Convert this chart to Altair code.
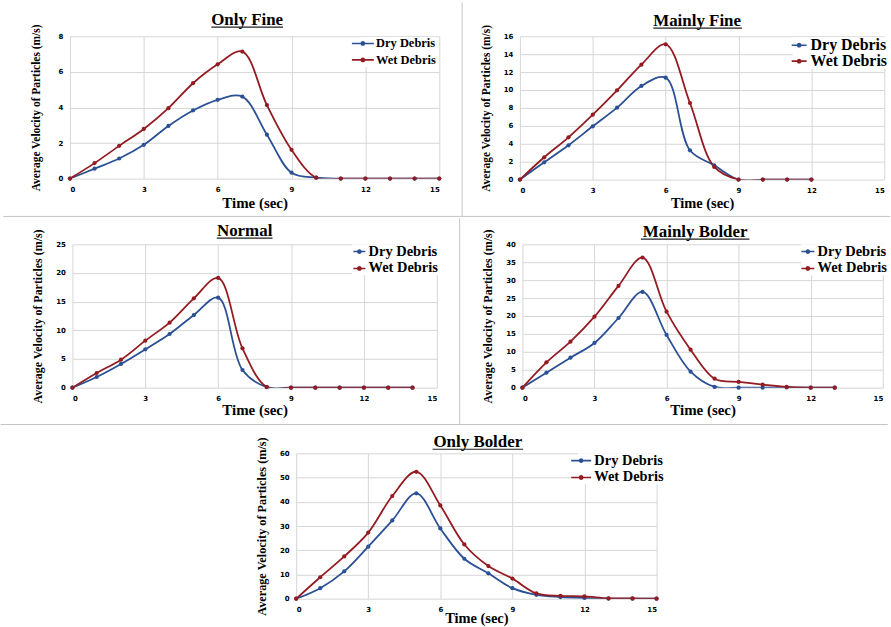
import altair as alt
import pandas as pd

# ---------------- data ----------------
only_fine_t = list(range(16))
only_fine_dry = [0, 0.56, 1.13, 1.9, 2.96, 3.83, 4.43, 4.61, 2.47, 0.33, 0.05, 0, 0, 0, 0, 0]
only_fine_wet = [0, 0.87, 1.84, 2.79, 3.96, 5.36, 6.42, 7.14, 4.13, 1.62, 0.05, 0, 0, 0, 0, 0]

mainly_fine_t = list(range(13))
mainly_fine_dry = [0, 1.93, 3.83, 5.95, 8.03, 10.45, 11.38, 3.27, 1.6, 0, 0, 0, 0]
mainly_fine_wet = [0, 2.49, 4.72, 7.25, 9.96, 12.83, 15.1, 8.55, 1.41, 0, 0, 0, 0]

normal_t = list(range(15))
normal_dry = [0, 1.86, 4.13, 6.69, 9.36, 12.67, 15.7, 3.08, 0.1, 0, 0, 0, 0, 0, 0]
normal_wet = [0, 2.56, 4.88, 8.2, 11.34, 15.58, 19.13, 6.86, 0.1, 0, 0, 0, 0, 0, 0]

mainly_bolder_t = list(range(14))
mainly_bolder_dry = [0, 4.19, 8.37, 12.47, 19.44, 26.7, 14.7, 4.47, 0.2, 0, 0, 0.05, 0, 0]
mainly_bolder_wet = [0, 7.07, 12.84, 19.8, 28.4, 36.3, 21.2, 10.6, 2.5, 1.6, 0.84, 0.2, 0, 0]

only_bolder_t = list(range(16))
only_bolder_dry = [0, 4.36, 11.3, 21.5, 32.3, 43.5, 29.0, 16.5, 10.5, 4.36, 1.6, 0.7, 0.3, 0, 0, 0]
only_bolder_wet = [0, 8.86, 17.45, 27.3, 42.4, 52.4, 38.5, 22.4, 13.5, 8.3, 2.2, 1.2, 0.95, 0.15, 0.1, 0]

series_names = ["Dry Debris", "Wet Debris"]
series_colors = ["#2B5094", "#931C22"]
x_ticks = [0, 3, 6, 9, 12, 15]
y_title = "Average Velocity of Particles (m/s)"
x_title = "Time (sec)"

SERIF = "Liberation Serif"
SANS = "DejaVu Sans"
SEP = "#c4c4c4"
ONE = pd.DataFrame({"a": [0]})


def sym_path(w, s=6.0):
    k = w / (2 * s)
    left = -(2 * k - 1)
    c = -(k - 1)
    t = 0.8 / s
    r = 2.4 / s
    return (f"M{left:.3f},{-t:.3f}H1V{t:.3f}H{left:.3f}Z"
            f"M{c + r:.3f},0A{r:.3f},{r:.3f} 0 1,1 {c - r:.3f},0"
            f"A{r:.3f},{r:.3f} 0 1,1 {c + r:.3f},0Z")


def rule(x, x2, y, y2, color=SEP, width=1, opacity=1):
    enc = {"x": alt.value(x), "y": alt.value(y)}
    if x2 is not None:
        enc["x2"] = alt.value(x2)
    if y2 is not None:
        enc["y2"] = alt.value(y2)
    return alt.Chart(ONE).mark_rule(color=color, strokeWidth=width, opacity=opacity).encode(**enc)


def panel(title, t, dry, wet, w, h, ymax, ystep, tcx, tby, ul, lfs, symw,
          lx, ly, rowpad, ytfs, xty, xtfs=15, extra=None):
    df = pd.DataFrame({
        "t": t + t,
        "v": dry + wet,
        "s": [series_names[0]] * len(t) + [series_names[1]] * len(t),
    })
    sc = alt.Scale(domain=series_names, range=series_colors)
    x = alt.X("t:Q", scale=alt.Scale(domain=[0, 15], nice=False, zero=False),
              axis=alt.Axis(values=x_ticks, title=x_title, titleY=xty,
                            titleBaseline="alphabetic", titleFontSize=xtfs,
                            titleFont=SERIF, titleFontWeight="bold"))
    y = alt.Y("v:Q", scale=alt.Scale(domain=[0, ymax], nice=False),
              axis=alt.Axis(values=list(range(0, ymax + 1, ystep)),
                            title=y_title,
                            titleX=-31, titleY=h / 2, titleAngle=270,
                            titleAlign="center", titleBaseline="alphabetic",
                            titleFontSize=ytfs, titleFont=SERIF,
                            titleFontWeight="bold"))
    base = alt.Chart(df)
    lines = [
        base.transform_filter(alt.datum.s == name).mark_line(
            interpolate="catmull-rom", strokeWidth=1.8, clip=True, color=col
        ).encode(x=x, y=y)
        for name, col in zip(series_names, series_colors)
    ]
    s = 6.0
    pts = base.mark_point(filled=True, size=18, opacity=1).encode(
        x=x, y=y,
        fill=alt.Fill("s:N", scale=sc, legend=alt.Legend(
            title=None, orient="none", legendX=lx + symw - 2 * s, legendY=ly,
            symbolType=sym_path(symw, s), symbolSize=(2 * s) ** 2,
            symbolStrokeWidth=0, symbolOpacity=1, labelFont=SERIF,
            labelFontWeight="bold", labelFontSize=lfs, labelColor="black",
            labelOffset=2, rowPadding=rowpad, padding=0, fillColor="white")))
    ttl = alt.Chart(ONE).mark_text(
        text=title, font=SERIF, fontSize=17, fontWeight="bold", align="center",
        baseline="alphabetic", color="black").encode(x=alt.value(tcx), y=alt.value(tby))
    under = rule(ul[0], ul[1], tby + 1.8, None, color="#222222", width=1.1)
    layers = lines + [pts, ttl, under]
    if extra:
        layers += extra
    return alt.layer(*layers).properties(width=w, height=h)


# separators between the five pictures (decoration of the composite figure)
seps_top = [rule(394, None, -34, 181), rule(-67, 824, 181, None)]
seps_mid = [rule(389, None, -26, 181), rule(-72, 819, 181, None)]
helper_bottom = [rule(-63, 370, -27.5, None, opacity=0)]

p1 = panel("Only Fine", only_fine_t, only_fine_dry, only_fine_wet, 371, 143, 8, 2,
           178, -11, (142, 214), 12.5, 22, 283, 1, 3.5, 11.5, 29, extra=seps_top)
p2 = panel("Mainly Fine", mainly_fine_t, mainly_fine_dry, mainly_fine_wet, 366, 144, 16, 2,
           178, -10, (134, 223), 16, 15, 271, 1, 0, 11.5, 28, xtfs=14.5)
p3 = panel("Normal", normal_t, normal_dry, normal_wet, 366, 144, 25, 5,
           173, -8, (145, 201), 14.5, 12, 281, 0, 2, 12, 27, extra=seps_mid)
p4 = panel("Mainly Bolder", mainly_bolder_t, mainly_bolder_dry, mainly_bolder_wet, 362, 144, 40, 5,
           173.5, -7, (119, 228), 14.5, 13, 279, 0, 2, 12, 27)
p5 = panel("Only Bolder", only_bolder_t, only_bolder_dry, only_bolder_wet, 362, 146, 60, 10,
           182.5, -6, (137, 228), 14.5, 20, 275, 0, 2, 12.3, 24, xtfs=14.5, extra=helper_bottom)

row1 = alt.hconcat(p1, p2, spacing=81, bounds="flush").resolve_scale(
    fill="independent").resolve_legend(fill="independent")
row2 = alt.hconcat(p3, p4, spacing=86, bounds="flush").resolve_scale(
    fill="independent").resolve_legend(fill="independent")

chart = alt.vconcat(row1, row2, p5, spacing=0, center=True).resolve_scale(
    fill="independent").resolve_legend(fill="independent").properties(
    padding=0, background="white",
).configure_view(stroke=None).configure_axis(
    gridColor="#d6d6d6", gridWidth=1, domain=False, ticks=False,
    labelFont=SANS, labelFontWeight="bold", labelFontSize=7, labelColor="black",
    labelPadding=7, titleColor="black",
).configure_legend(
    labelFont=SERIF, labelFontWeight="bold", labelColor="black",
)

chart.save("out.html", embed_options={"renderer": "svg", "actions": False})
